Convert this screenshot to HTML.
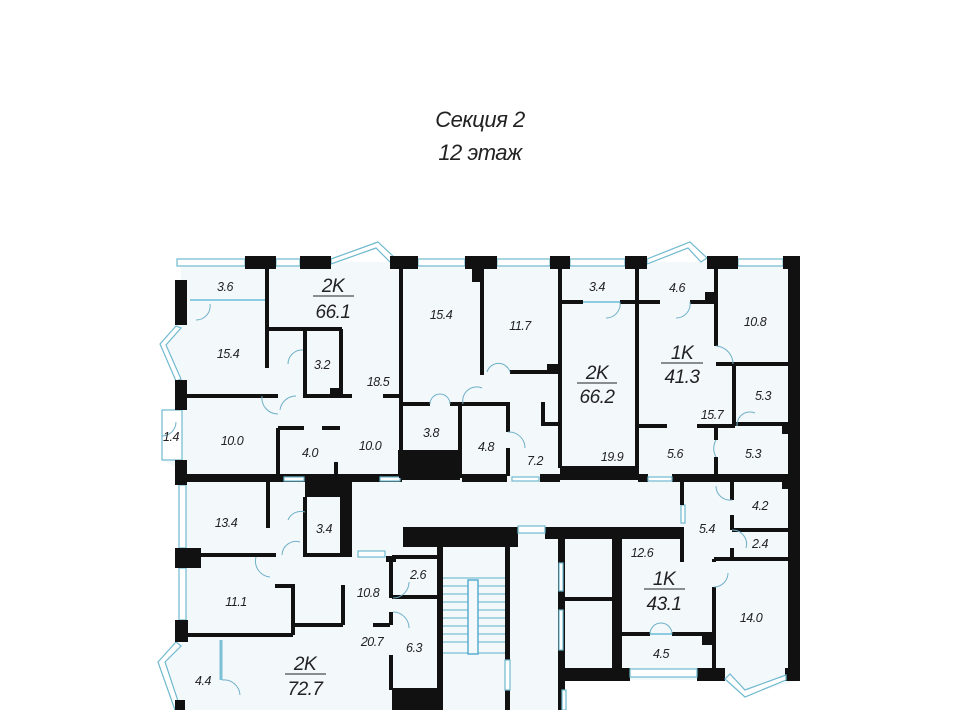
<!DOCTYPE html>
<html><head><meta charset="utf-8"><style>
html,body{margin:0;padding:0;background:#fff;width:960px;height:710px;overflow:hidden}
svg{display:block}
text{font-family:"Liberation Sans",sans-serif;font-style:italic;fill:#222}
.s{font-size:12.5px;letter-spacing:-0.5px}
.b{font-size:19px;letter-spacing:-0.5px}
.w{stroke:#111;stroke-width:4;fill:none}
.win{fill:#fff;stroke:#6fb9cf;stroke-width:1.2}
.st{stroke:#7cc0d6;stroke-width:1.2}
</style></head><body>
<svg width="960" height="710" viewBox="0 0 960 710" xmlns="http://www.w3.org/2000/svg">
<text x="480" y="127" text-anchor="middle" style="font-size:22px;font-style:italic;letter-spacing:-0.5px">Секция 2</text>
<text x="480" y="160" text-anchor="middle" style="font-size:22px;font-style:italic;letter-spacing:-0.5px">12 этаж</text>

<!-- interior fill -->
<polygon points="181,262 800,262 800,680 745,695 725,680 565,680 565,710 175,710 160,660 181,640 181,470 162,460 162,410 181,410 181,380 165,345 181,325" fill="#f3f8fb"/>

<!-- top windows -->
<rect class="win" x="177" y="259" width="68" height="7"/>
<rect class="win" x="276" y="259" width="24" height="7"/>
<polygon class="win" points="331,259 378,242 395,258 390,262 376,248 331,264"/>
<rect class="win" x="418" y="259" width="47" height="7"/>
<rect class="win" x="497" y="259" width="53" height="7"/>
<rect class="win" x="570" y="259" width="55" height="7"/>
<polygon class="win" points="647,259 690,242 707,258 701,262 688,248 647,264"/>
<rect class="win" x="738" y="259" width="45" height="7"/>
<!-- left bay windows -->
<polygon class="win" points="176,326 160,344 176,381 181,379 166,345 181,328"/>
<rect class="win" x="162" y="410" width="20" height="50" fill="#f3f8fb"/>
<rect class="win" x="179" y="485" width="7" height="63"/>
<rect class="win" x="179" y="568" width="7" height="52"/>
<polygon class="win" points="176,642 158,662 175,710 181,710 165,662 181,646"/>

<!-- top piers -->
<g fill="#111">
<rect x="245" y="256" width="31" height="13"/>
<rect x="300" y="256" width="31" height="13"/>
<rect x="390" y="256" width="28" height="13"/>
<rect x="465" y="256" width="32" height="13"/>
<rect x="472" y="268" width="9" height="14"/>
<rect x="550" y="256" width="20" height="13"/>
<rect x="625" y="256" width="22" height="13"/>
<rect x="707" y="256" width="31" height="13"/>
<rect x="783" y="256" width="17" height="13"/>
<rect x="788" y="256" width="12" height="424"/>
<!-- left wall piers -->
<rect x="175" y="280" width="12" height="45"/>
<rect x="175" y="380" width="12" height="30"/>
<rect x="175" y="460" width="12" height="25"/>
<rect x="175" y="548" width="26" height="20"/>
<rect x="175" y="620" width="13" height="22"/>
<rect x="175" y="700" width="10" height="10"/>
<!-- bottom of upper apartments -->
<rect x="175" y="474" width="130" height="8"/>
<rect x="305" y="474" width="47" height="23"/>
<rect x="352" y="474" width="50" height="8"/>
<rect x="398" y="450" width="62" height="30"/>
<rect x="462" y="474" width="45" height="8"/>
<rect x="540" y="474" width="20" height="8"/>
<rect x="560" y="466" width="78" height="14"/>
<rect x="638" y="474" width="10" height="8"/>
<rect x="672" y="474" width="128" height="8"/>
<rect x="330" y="388" width="12" height="9"/>
<rect x="547" y="364" width="12" height="10"/>
<rect x="705" y="292" width="11" height="12"/>
<rect x="782" y="426" width="10" height="8"/>
<rect x="782" y="482" width="8" height="7"/>
<!-- corridor / core -->
<rect x="340" y="482" width="12" height="72"/>
<rect x="403" y="527" width="115" height="20"/>
<rect x="545" y="527" width="139" height="12"/>
<rect x="437" y="547" width="6" height="163"/>
<rect x="505" y="540" width="5" height="170"/>
<rect x="558" y="539" width="7" height="171"/>
<rect x="612" y="537" width="8" height="133"/>
<rect x="558" y="668" width="72" height="13"/>
<rect x="697" y="668" width="28" height="13"/>
<rect x="785" y="668" width="15" height="13"/>
<rect x="702" y="632" width="11" height="13"/>
<rect x="392" y="688" width="45" height="22"/>
<rect x="386" y="556" width="10" height="6"/>
</g>
<!-- windows in core -->
<rect class="win" x="518" y="526" width="27" height="7"/>
<rect class="win" x="358" y="551" width="27" height="6"/>
<rect class="win" x="681" y="505" width="4" height="18"/>
<rect class="win" x="505" y="660" width="5" height="30"/>
<rect class="win" x="559" y="563" width="4" height="28"/>
<rect class="win" x="559" y="610" width="4" height="40"/>
<rect class="win" x="630" y="669" width="67" height="8"/>
<polygon class="win" points="725,679 745,697 786,680 786,675 745,690 730,674"/>
<rect class="win" x="562" y="690" width="4" height="20"/>
<rect class="win" x="284" y="477" width="20" height="4"/>
<rect class="win" x="512" y="477" width="27" height="4"/>
<rect class="win" x="648" y="477" width="24" height="4"/>
<rect class="win" x="380" y="477" width="20" height="4"/>

<!-- thin walls -->
<g class="w">
<path d="M401,268 V478"/>
<path d="M267,268 V368"/>
<path d="M267,329 H342 M305,329 V396 M341,329 V396"/>
<path d="M187,396 H278 M303,396 H352"/>
<path d="M383,396 H400"/>
<path d="M278,428 H304 M322,428 H340 M278,428 V476"/>
<path d="M336,462 V476"/>
<path d="M403,404 H430 M450,404 H510"/>
<path d="M460,404 V478"/>
<path d="M508,404 V432 M508,448 V476"/>
<path d="M482,268 V375 M510,372 H557"/>
<path d="M560,268 V468 M543,402 V424 H560"/>
<path d="M560,302 H583 M620,302 H636"/>
<path d="M637,268 V478"/>
<path d="M637,426 H667 M697,426 H735"/>
<path d="M639,302 H660 M690,302 H716"/>
<path d="M716,268 V346 M716,364 H790 M734,364 V426 M734,424 H790"/>
<path d="M716,426 V440 M716,457 V478"/>
<!-- lower right -->
<path d="M682,482 V505 M682,537 V562"/>
<path d="M732,482 V500 M732,515 V530 M732,548 V560 M732,530 H790 M714,559 H790"/>
<path d="M714,559 V562 M714,587 V670"/>
<path d="M620,537 V670 M620,634 H650 M672,634 H702"/>
<path d="M565,599 H612"/>
<!-- lower left -->
<path d="M268,482 V528"/>
<path d="M305,497 V555 M350,482 V555 M303,555 H352"/>
<path d="M187,555 H276 M187,635 H293 M275,586 H293 V635"/>
<path d="M293,625 H343 M343,585 V625"/>
<path d="M373,625 H390"/>
<path d="M391,557 V598 M391,612 V625 M391,655 V690"/>
<path d="M392,597 H437 M392,557 H437"/>
</g>
<line x1="221" y1="640" x2="221" y2="680" stroke="#7cc0d6" stroke-width="3"/>
<line x1="190" y1="300" x2="265" y2="300" stroke="#8ccbe0" stroke-width="2"/>
<line x1="583" y1="302" x2="620" y2="302" stroke="#8ccbe0" stroke-width="2"/>
<line x1="650" y1="634" x2="672" y2="634" stroke="#8ccbe0" stroke-width="2"/>

<!-- stairs -->
<g class="st">
<line x1="443" y1="578" x2="505" y2="578"/><line x1="443" y1="586" x2="505" y2="586"/>
<line x1="443" y1="594" x2="505" y2="594"/><line x1="443" y1="602" x2="505" y2="602"/>
<line x1="443" y1="610" x2="505" y2="610"/><line x1="443" y1="618" x2="505" y2="618"/>
<line x1="443" y1="626" x2="505" y2="626"/><line x1="443" y1="634" x2="505" y2="634"/>
<line x1="443" y1="642" x2="505" y2="642"/><line x1="443" y1="653" x2="505" y2="653"/>
</g>
<rect x="468" y="580" width="10" height="74" fill="#f3f8fb" stroke="#5aaed0" stroke-width="1.5"/>

<!-- doors arcs -->
<g fill="none" stroke="#6fb0c8" stroke-width="1">
<path d="M196,320 A14,14 0 0 0 210,304"/>
<path d="M288,364 A14,14 0 0 1 303,350"/>
<path d="M280,410 A16,16 0 0 1 296,396"/>
<path d="M262,396 A16,16 0 0 0 278,414"/>
<path d="M430,404 A10,10 0 0 1 450,404"/>
<path d="M463,404 A14,14 0 0 1 482,388"/>
<path d="M487,372 A12,12 0 0 1 510,372"/>
<path d="M508,432 A16,16 0 0 1 525,448"/>
<path d="M620,302 A14,14 0 0 1 606,318"/>
<path d="M690,302 A14,14 0 0 1 676,318"/>
<path d="M716,346 A18,18 0 0 1 733,364"/>
<path d="M737,426 A13,13 0 0 1 755,413"/>
<path d="M716,440 A17,17 0 0 0 716,457"/>
<path d="M732,500 A14,14 0 0 1 716,486"/>
<path d="M732,530 A14,14 0 0 1 746,548"/>
<path d="M714,587 A14,14 0 0 0 728,573"/>
<path d="M650,634 A11,11 0 0 1 672,634"/>
<path d="M288,520 A14,14 0 0 1 305,512"/>
<path d="M282,555 A14,14 0 0 1 300,542"/>
<path d="M256,557 A16,16 0 0 0 270,577"/>
<path d="M393,598 A16,16 0 0 0 409,582"/>
<path d="M393,612 A16,16 0 0 1 409,628"/>
<path d="M222,680 A16,16 0 0 1 240,695"/>
<path d="M162,436 A14,14 0 0 0 176,422"/>
</g>

<!-- labels -->
<g class="s" text-anchor="middle">
<text x="225" y="291">3.6</text><text x="228" y="358">15.4</text><text x="322" y="369">3.2</text>
<text x="378" y="386">18.5</text><text x="171" y="441">1.4</text><text x="232" y="445">10.0</text>
<text x="310" y="457">4.0</text><text x="370" y="450">10.0</text><text x="441" y="319">15.4</text>
<text x="431" y="437">3.8</text><text x="520" y="330">11.7</text><text x="486" y="451">4.8</text>
<text x="535" y="465">7.2</text><text x="597" y="291">3.4</text><text x="612" y="461">19.9</text>
<text x="677" y="292">4.6</text><text x="755" y="326">10.8</text><text x="763" y="400">5.3</text>
<text x="712" y="419">15.7</text><text x="675" y="458">5.6</text><text x="753" y="458">5.3</text>
<text x="226" y="527">13.4</text><text x="324" y="533">3.4</text><text x="642" y="557">12.6</text>
<text x="707" y="533">5.4</text><text x="760" y="510">4.2</text><text x="760" y="548">2.4</text>
<text x="751" y="622">14.0</text><text x="236" y="606">11.1</text><text x="368" y="597">10.8</text>
<text x="418" y="579">2.6</text><text x="372" y="646">20.7</text><text x="414" y="652">6.3</text>
<text x="661" y="658">4.5</text><text x="203" y="685">4.4</text>
</g>
<g class="b" text-anchor="middle">
<text x="333" y="292">2K</text><text x="333" y="318">66.1</text><line x1="313" y1="296" x2="354" y2="296" stroke="#222" stroke-width="1"/>
<text x="597" y="379">2K</text><text x="597" y="403">66.2</text><line x1="577" y1="383" x2="617" y2="383" stroke="#222" stroke-width="1"/>
<text x="682" y="359">1K</text><text x="682" y="383">41.3</text><line x1="661" y1="363" x2="703" y2="363" stroke="#222" stroke-width="1"/>
<text x="664" y="585">1K</text><text x="664" y="610">43.1</text><line x1="644" y1="589" x2="685" y2="589" stroke="#222" stroke-width="1"/>
<text x="305" y="670">2K</text><text x="305" y="695">72.7</text><line x1="285" y1="674" x2="326" y2="674" stroke="#222" stroke-width="1"/>
</g>
</svg>
</body></html>
